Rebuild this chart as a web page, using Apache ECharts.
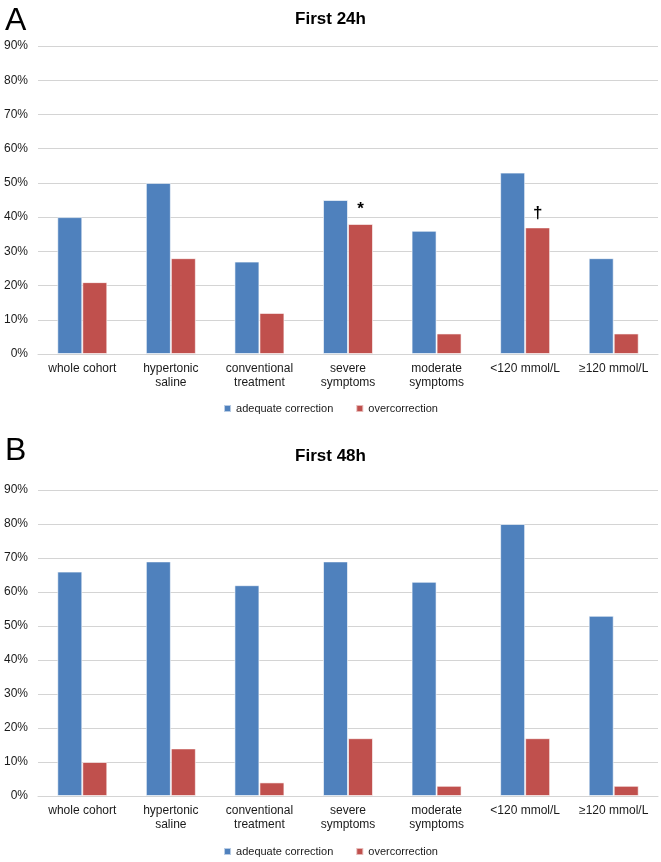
<!DOCTYPE html>
<html><head><meta charset="utf-8">
<script src="https://cdn.jsdelivr.net/npm/echarts@6/dist/echarts.min.js"></script>
<style>html,body{margin:0;padding:0;background:#fff}#c{width:661px;height:862px}</style>
</head><body><div id="c"></div>
<script>
const categories = ['whole cohort','hypertonic\nsaline','conventional\ntreatment','severe\nsymptoms','moderate\nsymptoms','<120 mmol/L','≥120 mmol/L'];
const adequate24 = [40,50,27,45,36,53,28];
const over24 = [21,28,12,38,6,37,6];
const adequate48 = [66,69,62,69,63,80,53];
const over48 = [10,14,4,17,3,17,3];
const marks24 = ['', '', '', '*', '', '†', ''];
const yTicks = [0,10,20,30,40,50,60,70,80,90];

const BLUE = '#4F81BD', RED = '#C0504D';
const font = 'Liberation Sans, Arial, sans-serif';
const chart = echarts.init(document.getElementById('c'), null, {renderer:'canvas'});

function withMarks(vals, marks){
  return vals.map((v,i)=> marks && marks[i] ? {value:v, label:{show:true, position:'top', formatter:marks[i], fontSize:17, fontWeight:'bold', color:'#000', fontFamily:font, offset:[0,-1]}} : v);
}
function xAxis(gi){
  return {type:'category', gridIndex:gi, data:categories,
    axisLine:{lineStyle:{color:'#d4d4d4', width:1}}, axisTick:{show:false},
    axisLabel:{color:'#1a1a1a', fontSize:12, fontFamily:font, margin:8, lineHeight:14, interval:0}};
}
function yAxis(gi){
  return {type:'value', gridIndex:gi, min:yTicks[0], max:yTicks[yTicks.length-1], interval:10,
    axisLine:{show:false}, axisTick:{show:false},
    splitLine:{lineStyle:{color:'#d4d4d4', width:1}},
    axisLabel:{formatter:'{value}%', color:'#1a1a1a', fontSize:12, fontFamily:font, margin:10}};
}
function barSeries(name, data, color, gi){
  return {type:'bar', name, data, xAxisIndex:gi, yAxisIndex:gi, barWidth:25, barGap:'0%',
    itemStyle:{color, borderColor:'rgba(255,255,255,0.6)', borderWidth:1}, animation:false};
}
const legendBase = {itemWidth:7, itemHeight:7, itemGap:22, icon:'rect',
  textStyle:{fontSize:11, color:'#1a1a1a', fontFamily:font}, data:['adequate correction','overcorrection'], left:'center'};

chart.setOption({
  animation:false,
  title:[
    {text:'First 24h', left:'center', top:6, textStyle:{fontSize:17, fontWeight:'bold', color:'#000', fontFamily:font}},
    {text:'First 48h', left:'center', top:443, textStyle:{fontSize:17, fontWeight:'bold', color:'#000', fontFamily:font}},
    {text:'A', left:0, top:0, textStyle:{fontSize:32, fontWeight:'normal', color:'#000', fontFamily:font}},
    {text:'B', left:0, top:430, textStyle:{fontSize:32, fontWeight:'normal', color:'#000', fontFamily:font}}
  ],
  legend:[
    Object.assign({top:398}, legendBase),
    Object.assign({top:841}, legendBase)
  ],
  grid:[
    {left:38, right:3, top:46, height:308},
    {left:38, right:3, top:490, height:306}
  ],
  xAxis:[xAxis(0), xAxis(1)],
  yAxis:[yAxis(0), yAxis(1)],
  series:[
    barSeries('adequate correction', adequate24, BLUE, 0),
    barSeries('overcorrection', withMarks(over24, marks24), RED, 0),
    barSeries('adequate correction', adequate48, BLUE, 1),
    barSeries('overcorrection', over48, RED, 1)
  ]
});
</script></body></html>
